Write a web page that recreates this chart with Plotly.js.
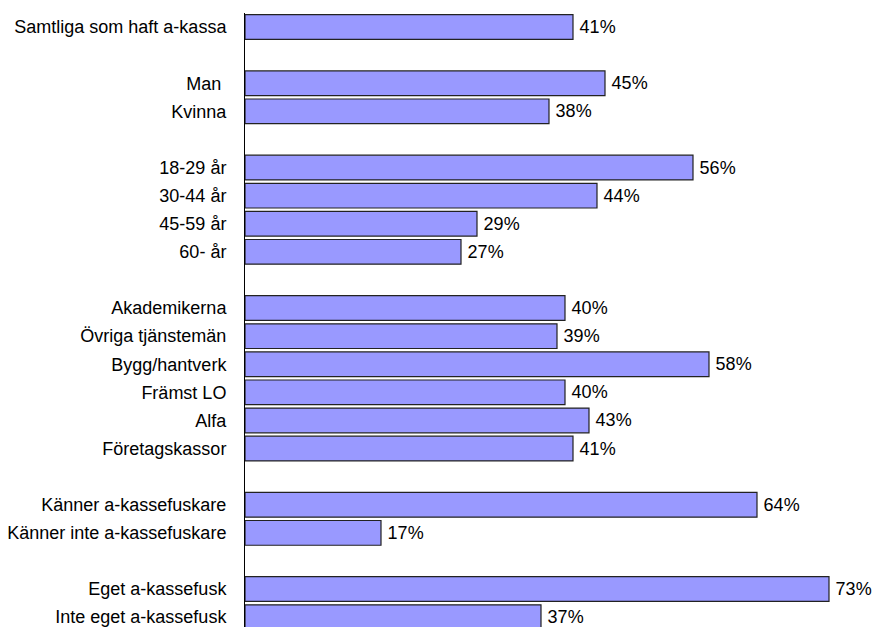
<!DOCTYPE html>
<html>
<head>
<meta charset="utf-8">
<script src="https://cdn.plot.ly/plotly-3.0.1.min.js"></script>
<style>html,body{margin:0;padding:0;background:#fff;}#chart{width:878px;height:627px;}</style>
</head>
<body>
<div id="chart"></div>
<script>
const categories = [
  "Samtliga som haft a-kassa",
  "Man ", "Kvinna",
  "18-29 år", "30-44 år", "45-59 år", "60- år",
  "Akademikerna", "Övriga tjänstemän", "Bygg/hantverk", "Främst LO", "Alfa", "Företagskassor",
  "Känner a-kassefuskare", "Känner inte a-kassefuskare",
  "Eget a-kassefusk", "Inte eget a-kassefusk"
];
const groupSizes = [1, 2, 4, 6, 2, 2];
const values = [41, 45, 38, 56, 44, 29, 27, 40, 39, 58, 40, 43, 41, 64, 17, 73, 37];
const valueLabels = values.map(v => "\u2009" + v + "%");

// slot positions: one empty slot between groups
const slots = [];
let s = 0;
groupSizes.forEach((n) => {
  for (let i = 0; i < n; i++) { slots.push(s); s++; }
  s++; // gap
});

const font = "Liberation Sans, Arial, Helvetica, sans-serif";

Plotly.newPlot("chart", [{
  type: "bar",
  orientation: "h",
  x: values,
  y: slots,
  width: 0.88,
  text: valueLabels,
  textposition: "outside",
  cliponaxis: false,
  textfont: {family: font, size: 18, color: "#000"},
  marker: {color: "#9999FF", line: {color: "#222", width: 1.2}},
  hoverinfo: "skip"
}], {
  width: 878, height: 627,
  margin: {l: 245, r: 9, t: 13, b: 0, pad: 0},
  paper_bgcolor: "#fff", plot_bgcolor: "#fff",
  showlegend: false,
  xaxis: {range: [0, 78], visible: false, fixedrange: true},
  yaxis: {
    range: [21.35, -0.5],
    tickvals: slots, ticktext: categories,
    showgrid: false, zeroline: false,
    showline: true, linecolor: "#000", linewidth: 1,
    ticks: "", ticklabelstandoff: 14,
    ticklabeloverflow: "allow",
    tickfont: {family: font, size: 18, color: "#000"},
    fixedrange: true
  },
  font: {family: font, color: "#000"}
}, {displayModeBar: false, staticPlot: true});
</script>
</body>
</html>
